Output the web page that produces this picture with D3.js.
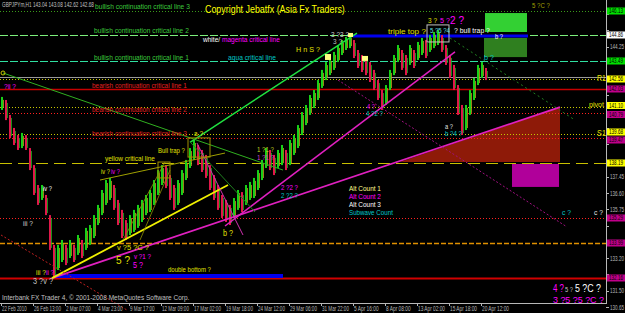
<!DOCTYPE html>
<html><head><meta charset="utf-8">
<script src="https://cdn.jsdelivr.net/npm/d3@7/dist/d3.min.js"></script>
<style>html,body{margin:0;padding:0;background:#000;}svg{display:block;}</style>
</head><body>
<script>
// ---------- DATA ----------
// sampled H1 bars (every 8 hours) : high / low prices
const barHigh = [141.62,141.46,140.68,140.00,139.63,139.74,139.63,138.95,138.06,137.02,137.02,136.50,135.45,133.89,133.89,134.15,133.89,134.15,133.89,134.41,
134.15,134.78,134.93,135.45,135.98,136.76,137.28,137.39,137.02,136.24,135.72,135.19,135.45,135.72,135.98,136.24,136.50,136.76,137.28,137.80,
138.06,138.06,137.54,137.02,137.28,137.80,138.33,138.95,139.37,139.11,138.85,138.59,138.06,137.54,137.02,136.50,136.24,135.98,136.34,136.76,
136.65,137.02,137.18,137.39,137.80,138.33,138.95,138.85,138.59,138.85,139.11,138.85,139.37,139.63,140.15,140.83,141.20,141.72,141.98,142.50,
143.03,143.44,143.65,143.97,144.33,144.59,144.75,144.85,144.59,144.07,143.81,143.65,143.44,143.03,142.50,141.98,142.24,143.03,143.81,144.33,
144.07,143.81,144.33,144.07,144.49,144.70,144.59,144.85,145.01,145.11,144.85,144.33,143.81,143.29,142.24,141.20,141.20,141.98,142.61,143.29,
143.44,143.13];
const barLow = [140.94,140.41,139.47,139.11,138.85,138.95,138.85,137.80,136.50,135.98,136.24,135.45,133.63,132.22,132.58,133.00,132.84,133.21,133.00,133.37,
133.21,133.63,133.89,134.25,134.93,135.45,135.98,136.24,135.72,134.93,134.25,134.15,134.41,134.57,134.78,135.09,135.45,135.61,135.98,136.50,
137.02,136.86,136.24,135.72,135.98,136.50,137.28,137.91,138.33,138.06,137.70,137.39,136.76,136.24,135.72,135.30,135.09,134.93,135.30,135.72,
135.61,135.98,136.24,136.34,136.76,137.28,137.91,137.80,137.54,137.91,138.06,137.80,138.06,138.59,138.95,139.63,140.15,140.68,141.04,141.46,
142.09,142.50,142.76,143.03,143.44,143.81,144.07,144.17,143.65,143.13,142.92,142.76,142.40,141.98,141.46,140.94,141.20,141.98,142.76,143.44,
143.03,142.76,143.29,143.13,143.55,143.81,143.65,143.97,144.17,144.33,143.97,143.29,142.61,141.98,140.68,139.63,139.89,140.68,141.46,142.24,
142.61,142.50];
const barStartHour = 2, barStepHours = 8;

const timeLabels = ["22 Feb 2010","26 Feb 13:00","2 Mar 07:00","4 Mar 23:00","9 Mar 17:00","12 Mar 09:00","17 Mar 02:00","19 Mar 18:00",
"24 Mar 12:00","29 Mar 06:00","31 Mar 22:00","5 Apr 16:00","8 Apr 08:00","13 Apr 02:00","15 Apr 18:00","20 Apr 12:00"];
const timeLabelHours = [0,64,128,192,256,320,384,448,512,576,640,704,768,832,896,960];
const priceTicks = [145.95,145.10,144.25,143.40,142.55,141.70,140.85,140.00,139.15,138.30,137.45,136.60,135.75,134.90,134.05,133.20,132.35,131.50,130.65];

// horizontal levels: price, colour, dash style, width
const levelPrice = [146.13,144.86,143.49,142.68,142.56,142.03,141.10,140.79,139.68,139.47,138.19,135.29,133.99,132.16];
const levelColor = ["#3a9a1a","#7cf07c","#30e0a0","#9a9a9a","#c8c800","#c80000","#c8c800","#ff2020","#c8c800","#ff2020","#c8c000","#ff2020","#e09000","#d00000"];
const levelDash  = ["1,2","8,2","8,2","","1,2","","1,2","1,2","1,2","1,2","12,6","1,2","5,2",""];
const levelWidth = [1,1.2,1.2,1,1,1.3,1,1,1,1,1.2,1,1.6,2];

// axis price boxes (label price, colour, vertical nudge in px)
const boxPrice = [146.13,144.86,143.49,142.56,142.03,141.10,140.79,139.68,139.47,138.19,135.29,133.99,132.16];
const boxColor = ["#00e000","#ffffff","#00e000","#ffff00","#c0008a","#ffff00","#c0008a","#ffff00","#c0008a","#ffff00","#c0008a","#c0008a","#c0008a"];
const boxNudge = [0,0,0,0,0,-1.5,1.5,-2,2,0,0,0,0];

// level labels
const levelLabelText = ["bullish continuation critical line 3","bullish continuation critical line 2","bullish continuation critical line 1",
"bearish continuation critical line 1","bearish continuation critical line 2","bearish continuation critical line 3"];
const levelLabelHour = [188,186,186,182,182,182];
const levelLabelPrice = [146.21,144.96,143.55,142.09,140.85,139.58];
const levelLabelColor = ["#3cc83c","#3cc83c","#3cc83c","#e02020","#e02020","#e02020"];

// trend lines: [hour1, price1, hour2, price2]
const trendLines = [
 [378,139.25,712,144.95],
 [102,132.16,1118,141.09],
 [448,134.88,908,143.97],
 [102,132.16,454,137.02],
 [198,137.28,448,138.69],
 [4,142.87,564,137.80],
 [378,139.27,508,135.61],
 [898,144.70,1148,140.41],
 [674,142.50,1132,134.83],
 [0,134.41,252,130.49],
 [244,134.15,328,138.22],
 [278,134.15,338,137.80],
 [392,139.21,484,134.41]
];
const trendColor = ["#20e040","#e020c0","#e020c0","#f0f000","#a0a000","#30b020","#208020","#208020","#a01080","#c02020","#909000","#909000","#d030b0"];
const trendDash  = ["","","","","","","","2,3","2,2","2,2","","",""];
const trendWidth = [1.5,1.8,1.5,1.8,1,1,1,1,1,1,0.8,0.8,1];

// rectangles: [hour1, price1, hour2, price2]
const rects = [[968,146.00,1052,145.01],[966,144.70,1052,143.70],[1022,138.12,1116,136.92]];
const rectColor = ["#33d033","#2f7f1f","#b0009a"];
const outlineRects = [[374,139.48,418,138.48],[314,138.22,338,137.39],[852,145.38,896,144.49]];
const outlineColor = ["#a09000","#a09000","#c0c0c0"];
const markers = [[648,143.86,660,143.55],[722,143.76,734,143.50],[694,144.96,704,144.75]];
const triangle = [[798,138.22],[1118,141.09],[1118,138.22]];
const blueLines = [[108,132.27,564,132.27],[704,144.80,1054,144.80]];
const blueWidth = [4,3];

// free text annotations: text, hour, price, colour, size, width(px)
const notes = [
 ["Copyright Jebatfx (Asia Fx Traders)",408,146.00,"#ffff00",10,140],
 ["aqua critical line",454,143.55,"#00c8c8",8,48],
 ["triple top ?",774,144.91,"#e0e000",8,38],
 ["H n S ?",590,143.97,"#e0e000",8,24],
 ["3 ?3 ?",660,144.75,"#d0d0d0",7,18],
 ["3 ?",664,144.38,"#c0c0c0",7,9],
 ["3 ?",854,145.48,"#e0e000",7,9],
 ["5 ?",878,145.48,"#ff00ff",8,10],
 ["2 ?",898,145.43,"#ff00ff",11,14],
 ["5 ?5 ?4",858,144.96,"#60e0e0",8,20],
 ["? bull trap ?",906,144.96,"#ffffff",8,36],
 ["b ?",988,144.64,"#ffffff",7,8],
 ["b ?",966,143.55,"#00c8c8",8,10],
 ["5 ?C ?",1062,146.26,"#a0a000",8,18],
 ["R1",1192,142.45,"#e0e000",9,9],
 ["pivot",1176,141.09,"#e0e000",8,15],
 ["S1",1192,139.58,"#e0e000",9,9],
 ["?ii ?",6,142.03,"#ff00ff",7,12],
 ["a ?",386,139.58,"#e0e000",7,9],
 ["Bull trap ?",314,138.69,"#e0e000",8,27],
 ["yellow critical line",208,138.27,"#e0e000",8,50],
 ["iv ?",200,137.60,"#e0e000",7,9],
 ["iv ?",220,137.60,"#ff00ff",7,9],
 ["iv ?",84,136.71,"#ffffff",7,9],
 ["1 ?1 ?",512,138.74,"#c0d020",7,17],
 ["1 ?1 ?",512,138.33,"#d040d0",7,17],
 ["4 ?",732,140.99,"#ff00ff",7,8],
 ["4 ?2 ?",730,140.62,"#00c8c8",7,17],
 ["a ?",888,139.94,"#e0e0e0",7,8],
 ["b ?4 ?",888,139.58,"#00c8c8",7,17],
 ["2 ?2 ?",560,136.76,"#ff00ff",7,17],
 ["2 ?2 ?",560,136.34,"#00c8c8",7,17],
 ["b ?",444,134.36,"#e0e000",9,10],
 ["Alt Count 1",696,136.71,"#ffff90",7,32],
 ["Alt Count 2",696,136.29,"#ff00ff",7,32],
 ["Alt Count 3",696,135.87,"#ffffff",7,32],
 ["Subwave Count",696,135.45,"#00c8c8",7,44],
 ["c ?",1122,135.45,"#00c8c8",8,9],
 ["c ?",1186,135.45,"#e0e0e0",8,9],
 ["iii ?",44,134.88,"#d0d0d0",7,10],
 ["v ?5 ?C ?",232,133.63,"#e0e000",8,32],
 ["5 ?",230,132.90,"#e0e000",11,14],
 ["v ?1 ?",266,133.16,"#ff00ff",8,17],
 ["5 ?",264,132.69,"#ff00ff",9,10],
 ["double bottom ?",334,132.48,"#e0e000",8,43],
 ["iii ?",70,132.32,"#e0e000",7,10],
 ["ii ?",90,132.32,"#ff00ff",7,8],
 ["3 ?v ?",64,131.85,"#c0c0c0",9,20],
 ["4 ?",1104,131.43,"#ff00ff",10,11],
 ["5 ?",1128,131.43,"#c0c0c0",8,8],
 ["5 ?C ?",1148,131.43,"#ffffff",11,26],
 ["3 ?5 ?5 ?C ?",1104,130.86,"#ff00ff",9,51]
];

// ---------- DRAW ----------
const W = 625, H = 313;
const x = d3.scaleLinear().domain([0, 1210]).range([1, 606]);
const y = d3.scaleLinear().domain([145.95, 130.65]).range([14, 307]);
const svg = d3.select("body").append("svg").attr("width", W).attr("height", H);
svg.append("rect").attr("width", W).attr("height", H).attr("fill", "#000");
const plot = svg.append("g");
const font = "Liberation Sans, Arial, sans-serif";

// text squeezed horizontally to a target width with a transform
function txt(g, str, xx, yy, color, size, len) {
  const gg = g.append("g").attr("transform", `translate(${xx},${yy})`);
  const t = gg.append("text").attr("x", 0).attr("y", 0).attr("fill", color)
    .attr("font-family", font).attr("font-size", size);
  if (Array.isArray(str)) str.forEach(s => t.append("tspan").attr("fill", s[1]).text(s[0]));
  else t.text(str);
  if (len) {
    const w = t.node().getComputedTextLength();
    if (w > 0) gg.attr("transform", `translate(${xx},${yy}) scale(${(len / w).toFixed(4)},1)`);
  }
  return gg;
}

// red triangle
plot.append("path").attr("d", d3.line().x(d => x(d[0])).y(d => y(d[1]))(triangle) + "Z").attr("fill", "#8e1a08");
// filled rects
rects.forEach((r, i) => plot.append("rect").attr("x", x(r[0])).attr("y", y(r[1])).attr("width", x(r[2]) - x(r[0])).attr("height", y(r[3]) - y(r[1])).attr("fill", rectColor[i]));

// levels
levelPrice.forEach((p, i) => plot.append("line").attr("x1", 0).attr("x2", x(1210)).attr("y1", Math.round(y(p)) + 0.5).attr("y2", Math.round(y(p)) + 0.5)
  .attr("stroke", levelColor[i]).attr("stroke-width", levelWidth[i]).attr("stroke-dasharray", levelDash[i] || null));

// blue lines
blueLines.forEach((b, i) => plot.append("line").attr("x1", x(b[0])).attr("x2", x(b[2])).attr("y1", y(b[1])).attr("y2", y(b[3])).attr("stroke", "#0000ee").attr("stroke-width", blueWidth[i]));

// bars
barHigh.forEach((h, i) => {
  const lo = barLow[i];
  const mid = (h + lo) / 2;
  const prevMid = i > 0 ? (barHigh[i - 1] + barLow[i - 1]) / 2 : mid;
  const up = mid >= prevMid;
  const hr = barStartHour + i * barStepHours;
  plot.append("rect").attr("x", x(hr) - 1).attr("y", y(h)).attr("width", 2).attr("height", Math.max(1, y(lo) - y(h)))
    .attr("fill", up ? "#18d018" : "#e0184a");
  plot.append("line").attr("x1", x(hr) + 1.5).attr("x2", x(hr) + 1.5).attr("y1", y(h) + 3).attr("y2", y(lo) - 2)
    .attr("stroke", up ? "#c0a020" : "#20b020").attr("stroke-width", 0.8);
});

// trend lines
trendLines.forEach((t, i) => plot.append("line").attr("x1", x(t[0])).attr("y1", y(t[1])).attr("x2", x(t[2])).attr("y2", y(t[3]))
  .attr("stroke", trendColor[i]).attr("stroke-width", trendWidth[i]).attr("stroke-dasharray", trendDash[i] || null));
// small start marker of the long green line
plot.append("circle").attr("cx", x(trendLines[5][0])).attr("cy", y(trendLines[5][1])).attr("r", 2).attr("fill", "none").attr("stroke", "#c8c800");

// outline rects and markers
outlineRects.forEach((r, i) => plot.append("rect").attr("x", x(r[0])).attr("y", y(r[1])).attr("width", x(r[2]) - x(r[0])).attr("height", y(r[3]) - y(r[1]))
  .attr("fill", "none").attr("stroke", outlineColor[i]).attr("stroke-width", 1));
markers.forEach(r => plot.append("rect").attr("x", x(r[0])).attr("y", y(r[1])).attr("width", x(r[2]) - x(r[0])).attr("height", y(r[3]) - y(r[1])).attr("fill", "#ffff80"));

// level labels
levelLabelText.forEach((t, i) => txt(plot, t, x(levelLabelHour[i]), y(levelLabelPrice[i]), levelLabelColor[i], 8, 95));
txt(plot, [["white/", "#ffffff"], [" magenta critical line", "#ff00ff"]], x(404), y(144.49), "#fff", 7.5, 77);

notes.forEach(n => txt(plot, n[0], x(n[1]), y(n[2]), n[3], n[4], n[5]));

// axes
const axisColor = "#b8b8b8";
svg.append("line").attr("x1", 606.5).attr("x2", 606.5).attr("y1", 0).attr("y2", 304).attr("stroke", axisColor);
svg.append("line").attr("x1", 0).attr("x2", 607).attr("y1", 303.5).attr("y2", 303.5).attr("stroke", axisColor);
priceTicks.forEach(p => {
  svg.append("line").attr("x1", 606).attr("x2", 609).attr("y1", Math.round(y(p)) + 0.5).attr("y2", Math.round(y(p)) + 0.5).attr("stroke", axisColor);
  const covered = boxPrice.some(b => Math.abs(y(b) - y(p)) < 8.5);
  if (!covered) txt(svg, p.toFixed(2), 610, y(p) + 2.5, axisColor, 7, 14);
});
boxPrice.forEach((p, i) => {
  const yy = Math.round(y(p)) + boxNudge[i];
  svg.append("rect").attr("x", 607).attr("y", yy - 3.5).attr("width", 18).attr("height", 7).attr("fill", boxColor[i]);
  txt(svg, p.toFixed(2), 609, yy + 2.3, "#000", 6.3, 14);
});
timeLabelHours.forEach((h, i) => {
  svg.append("line").attr("x1", Math.round(x(h)) + 0.5).attr("x2", Math.round(x(h)) + 0.5).attr("y1", 303).attr("y2", 306).attr("stroke", axisColor);
  txt(svg, timeLabels[i], x(h) + 1, 311, axisColor, 6.5, timeLabels[i].length * 2.25);
});

txt(svg, "GBPJPYm,H1  143.04 143.08 142.62 142.68", 2, 7, "#c0c0c0", 6.5, 92);
txt(svg, "Interbank FX Trader 4, © 2001-2008 MetaQuotes Software Corp.", 2, 300, "#c0c0c0", 6.5, 188);
</script>
</body></html>
